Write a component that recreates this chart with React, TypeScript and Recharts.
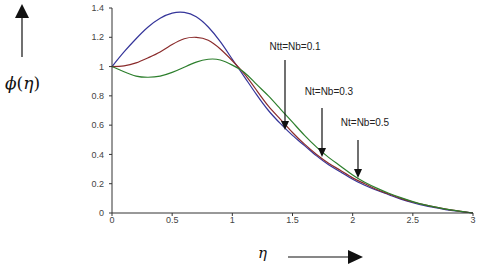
import { CartesianGrid, Line, LineChart, XAxis, YAxis } from "recharts"

const eta = [0, 0.1, 0.2, 0.3, 0.4, 0.5, 0.6, 0.7, 0.8, 0.9, 1.0, 1.1, 1.2, 1.3, 1.4, 1.5, 1.6, 1.7, 1.8, 1.9, 2.0, 2.1, 2.2, 2.3, 2.4, 2.5, 2.6, 2.7, 2.8, 2.9, 3.0]
const phi01 = [1.0, 1.1, 1.19, 1.27, 1.33, 1.365, 1.37, 1.34, 1.27, 1.17, 1.05, 0.93, 0.81, 0.7, 0.61, 0.53, 0.46, 0.39, 0.33, 0.28, 0.23, 0.19, 0.155, 0.125, 0.095, 0.07, 0.05, 0.035, 0.02, 0.01, 0.0]
const phi03 = [1.0, 1.005, 1.025, 1.06, 1.1, 1.15, 1.19, 1.2, 1.18, 1.12, 1.04, 0.95, 0.84, 0.73, 0.64, 0.55, 0.47, 0.4, 0.34, 0.29, 0.24, 0.2, 0.16, 0.13, 0.1, 0.075, 0.055, 0.038, 0.023, 0.011, 0.0]
const phi05 = [1.0, 0.965, 0.935, 0.927, 0.935, 0.96, 0.995, 1.03, 1.05, 1.045, 1.01, 0.96, 0.88, 0.8, 0.71, 0.62, 0.53, 0.45, 0.38, 0.32, 0.26, 0.21, 0.17, 0.135, 0.105, 0.078, 0.056, 0.038, 0.023, 0.011, 0.0]

const xTicks = [0, 0.5, 1, 1.5, 2, 2.5, 3]
const yTicks = [0, 0.2, 0.4, 0.6, 0.8, 1, 1.2, 1.4]

const labels = [
    { text: "Ntt=Nb=0.1", tx: 295, ty: 50, ax: 285, y1: 60, y2: 130 },
    { text: "Nt=Nb=0.3", tx: 329, ty: 95, ax: 322, y1: 108, y2: 157 },
    { text: "Nt=Nb=0.5", tx: 365, ty: 126, ax: 358, y1: 140, y2: 178 },
]

const data = eta.map((e, i) => ({ eta: e, a: phi01[i], b: phi03[i], c: phi05[i] }))

const tickStyle = { fontSize: 9, fill: "#444", fontFamily: "Liberation Sans, Arial, sans-serif" }

export default function App() {
    return (
        <div style={{ position: "absolute", left: 0, top: 0, width: 480, height: 267, background: "#fff" }}>
            <LineChart width={480} height={267} data={data} margin={{ top: 8, right: 7, bottom: 34, left: 0 }}>
                <CartesianGrid stroke="none" />
                <XAxis
                    dataKey="eta"
                    type="number"
                    domain={[0, 3]}
                    ticks={xTicks}
                    height={20}
                    tickSize={3}
                    tickMargin={1}
                    stroke="#333"
                    tick={tickStyle}
                />
                <YAxis
                    type="number"
                    domain={[0, 1.4]}
                    ticks={yTicks}
                    width={112}
                    tickSize={3}
                    tickMargin={5}
                    stroke="#333"
                    tick={tickStyle}
                />
                <Line type="natural" dataKey="a" stroke="#35359a" strokeWidth={1.2} dot={false} isAnimationActive={false} />
                <Line type="natural" dataKey="b" stroke="#8a2b2b" strokeWidth={1.2} dot={false} isAnimationActive={false} />
                <Line type="natural" dataKey="c" stroke="#2d7f2d" strokeWidth={1.2} dot={false} isAnimationActive={false} />
            </LineChart>
            <svg width={480} height={267} style={{ position: "absolute", left: 0, top: 0, pointerEvents: "none" }}>
                {labels.map((l) => (
                    <g key={l.text}>
                        <text x={l.tx} y={l.ty} textAnchor="middle" fontSize={10} fill="#222" fontFamily="Liberation Sans, Arial, sans-serif">
                            {l.text}
                        </text>
                        <line x1={l.ax} y1={l.y1} x2={l.ax} y2={l.y2 - 6} stroke="#111" strokeWidth={1.2} />
                        <polygon points={`${l.ax - 4},${l.y2 - 9} ${l.ax + 4},${l.y2 - 9} ${l.ax},${l.y2}`} fill="#111" />
                    </g>
                ))}
                <line x1={22} y1={16} x2={22} y2={57} stroke="#111" strokeWidth={1.2} />
                <polygon points="15,18 29,18 22,4" fill="#111" />
                <text x={5} y={89} fontSize={17} fill="#111" fontFamily="DejaVu Serif, serif">
                    <tspan fontStyle="italic">ϕ</tspan>
                    <tspan>(</tspan>
                    <tspan fontStyle="italic">η</tspan>
                    <tspan>)</tspan>
                </text>
                <text x={258} y={258} fontSize={15} fontStyle="italic" fill="#111" fontFamily="DejaVu Serif, serif">
                    η
                </text>
                <line x1={288} y1={257} x2={350} y2={257} stroke="#111" strokeWidth={1.2} />
                <polygon points="348,250 348,264 363,257" fill="#111" />
            </svg>
        </div>
    )
}
